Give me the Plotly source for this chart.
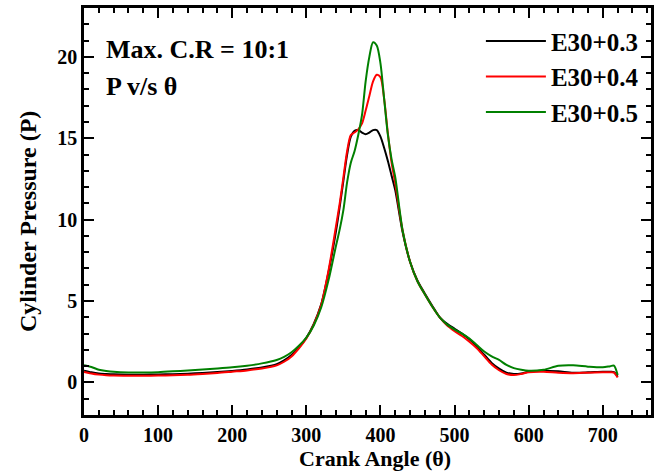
import plotly.graph_objects as go

angle = [0, 10, 20, 30, 40, 60, 80, 100, 120, 140, 160, 180, 200, 220, 240, 260, 270, 280, 290, 300,
         310, 320, 330, 340, 345, 350, 355, 360, 365, 370, 375, 380, 385, 390, 395, 400, 405, 410, 415,
         420, 430, 440, 450, 460, 470, 480, 490, 500, 510, 520, 530, 540, 550, 560, 570, 580, 590, 600,
         620, 640, 660, 680, 700, 710, 715, 720]

p_e30_03 = [0.72, 0.62, 0.55, 0.52, 0.50, 0.48, 0.48, 0.49, 0.51, 0.54, 0.58, 0.64, 0.71, 0.80, 0.92,
            1.12, 1.35, 1.68, 2.15, 2.75, 3.6, 4.8, 6.8, 9.3, 10.8, 12.4, 14.0, 15.1, 15.45, 15.5, 15.35,
            15.25, 15.35, 15.5, 15.5, 15.1, 14.4, 13.6, 12.7, 11.8, 9.2, 7.4, 6.25, 5.45, 4.7, 4.0, 3.6,
            3.3, 3.0, 2.65, 2.2, 1.7, 1.2, 0.85, 0.6, 0.52, 0.55, 0.65, 0.72, 0.68, 0.60, 0.62, 0.66,
            0.65, 0.63, 0.35]

p_e30_04 = [0.65, 0.55, 0.48, 0.44, 0.42, 0.41, 0.41, 0.42, 0.44, 0.47, 0.52, 0.58, 0.66, 0.74, 0.86,
            1.05, 1.27, 1.6, 2.1, 2.7, 3.55, 4.75, 6.9, 9.6, 11.0, 12.6, 14.2, 15.2, 15.35, 15.55, 15.9,
            16.7, 17.6, 18.5, 18.9, 18.75, 17.4, 15.3, 13.5, 12.2, 9.3, 7.4, 6.2, 5.4, 4.65, 4.0, 3.5,
            3.15, 2.85, 2.5, 2.1, 1.6, 1.1, 0.75, 0.52, 0.45, 0.52, 0.63, 0.66, 0.60, 0.57, 0.60, 0.62,
            0.62, 0.60, 0.30]

p_e30_05 = [1.06, 0.95, 0.78, 0.70, 0.65, 0.61, 0.61, 0.63, 0.68, 0.74, 0.80, 0.86, 0.93, 1.03, 1.17,
            1.38, 1.57, 1.85, 2.25, 2.75, 3.5, 4.6, 6.3, 8.4, 9.4, 10.6, 12.3, 13.5, 14.2, 15.2, 16.4,
            18.5, 20.0, 20.9, 20.7, 19.6, 17.4, 15.2, 13.7, 12.6, 9.3, 7.4, 6.2, 5.4, 4.65, 4.0, 3.55,
            3.25, 3.0, 2.7, 2.3, 1.9, 1.6, 1.38, 1.08, 0.88, 0.78, 0.72, 0.78, 1.02, 1.05, 0.97, 0.93,
            1.0, 1.03, 0.45]

series_names = ["E30+0.3", "E30+0.4", "E30+0.5"]
series_colors = ["#000000", "#ff0000", "#008000"]
x_ticks = [0, 100, 200, 300, 400, 500, 600, 700]
y_ticks = [0, 5, 10, 15, 20]

FONT = "Liberation Serif, Times New Roman, serif"

fig = go.Figure()
for name, ys, col in zip(series_names, [p_e30_03, p_e30_04, p_e30_05], series_colors):
    fig.add_trace(go.Scatter(x=angle, y=ys, mode="lines", name=name,
                             line=dict(color=col, width=2, shape="spline", smoothing=0.8)))

axis_common = dict(
    showline=True, linecolor="black", linewidth=2.5, mirror="ticks",
    ticks="inside", ticklen=10, tickwidth=2, tickcolor="black",
    showgrid=False, zeroline=False,
    tickfont=dict(family=FONT, size=20, color="black", weight="bold"),
)

fig.update_xaxes(range=[0, 765], tickvals=x_ticks,
                 minor=dict(dtick=20, ticks="inside", ticklen=5, tickwidth=2, tickcolor="black"),
                 **axis_common)
fig.update_yaxes(range=[-2, 23], tickvals=y_ticks,
                 minor=dict(dtick=1, ticks="inside", ticklen=5, tickwidth=2, tickcolor="black"),
                 **axis_common)

# axis titles
fig.add_annotation(xref="paper", yref="paper", x=0.514, y=-0.108, xanchor="center", yanchor="middle",
                   text="Crank Angle (θ)", showarrow=False,
                   font=dict(family=FONT, size=22, color="black", weight="bold"))
fig.add_annotation(xref="paper", yref="paper", x=-0.1, y=0.475, xanchor="center", yanchor="middle",
                   text="Cylinder Pressure (P)", showarrow=False, textangle=-90,
                   font=dict(family=FONT, size=24, color="black", weight="bold"))

fig.add_annotation(xref="paper", yref="paper", x=0.035, y=0.899, xanchor="left", yanchor="middle",
                   text="Max. C.R = 10:1", showarrow=False,
                   font=dict(family=FONT, size=26, color="black", weight="bold"))
fig.add_annotation(xref="paper", yref="paper", x=0.035, y=0.808, xanchor="left", yanchor="middle",
                   text="P v/s θ", showarrow=False,
                   font=dict(family=FONT, size=26, color="black", weight="bold"))

fig.update_layout(
    width=656, height=473,
    margin=dict(l=84, r=2, t=8, b=58),
    plot_bgcolor="white", paper_bgcolor="white",
    legend=dict(x=0.70, y=0.975, xanchor="left", yanchor="top", bgcolor="rgba(0,0,0,0)",
                font=dict(family=FONT, size=25, color="black", weight="bold"),
                itemwidth=60, tracegroupgap=0),
)

fig.write_html("out.html")
